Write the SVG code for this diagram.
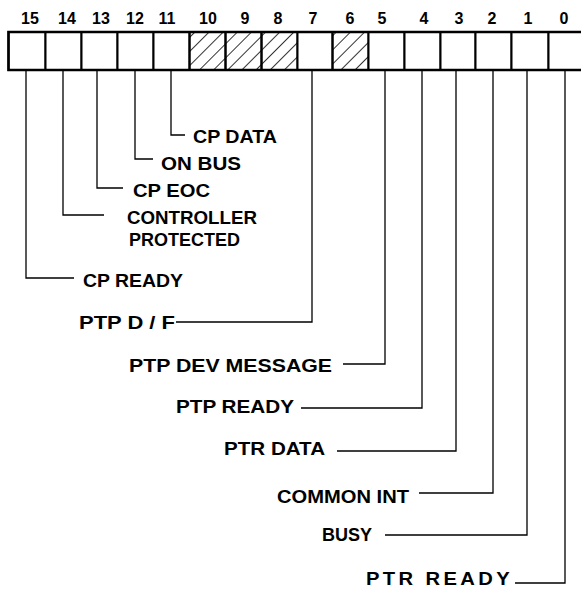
<svg xmlns="http://www.w3.org/2000/svg" width="581" height="589" viewBox="0 0 581 589">
<defs>
<pattern id="hatch" patternUnits="userSpaceOnUse" width="10" height="10" patternTransform="rotate(45)">
<line x1="0" y1="0" x2="0" y2="10" stroke="#000" stroke-width="1.6"/>
</pattern>
<style>
.lbl{font-family:"Liberation Sans",Arial,sans-serif;font-weight:bold;font-size:18px;fill:#000}
.bit{font-family:"Liberation Sans",Arial,sans-serif;font-weight:bold;font-size:16px;fill:#000;text-anchor:middle}
.cell{fill:#fff;stroke:#000;stroke-width:2}
.hcell{fill:url(#hatch);stroke:#000;stroke-width:2}
.con{fill:none;stroke:#000;stroke-width:1.3}
</style>
</defs>
<rect width="581" height="589" fill="#fff"/>
<g id="register">
<g id="bit-numbers">
<text class="bit" x="30" y="23.5">15</text>
<text class="bit" x="67" y="23.5">14</text>
<text class="bit" x="101" y="23.5">13</text>
<text class="bit" x="135" y="23.5">12</text>
<text class="bit" x="167" y="23.5">11</text>
<text class="bit" x="208" y="23.5">10</text>
<text class="bit" x="245" y="23.5">9</text>
<text class="bit" x="278" y="23.5">8</text>
<text class="bit" x="313" y="23.5">7</text>
<text class="bit" x="350" y="23.5">6</text>
<text class="bit" x="382" y="23.5">5</text>
<text class="bit" x="424" y="23.5">4</text>
<text class="bit" x="459" y="23.5">3</text>
<text class="bit" x="492" y="23.5">2</text>
<text class="bit" x="528" y="23.5">1</text>
<text class="bit" x="564" y="23.5">0</text>
</g>
<rect class="cell" x="8.5" y="32" width="37" height="38"/>
<rect class="cell" x="45.5" y="32" width="36" height="38"/>
<rect class="cell" x="81.5" y="32" width="36" height="38"/>
<rect class="cell" x="117.5" y="32" width="36" height="38"/>
<rect class="cell" x="153.5" y="32" width="36" height="38"/>
<rect class="hcell" x="189.5" y="32" width="36" height="38"/>
<rect class="hcell" x="225.5" y="32" width="36" height="38"/>
<rect class="hcell" x="261.5" y="32" width="36" height="38"/>
<rect class="cell" x="297.5" y="32" width="35" height="38"/>
<rect class="hcell" x="332.5" y="32" width="36" height="38"/>
<rect class="cell" x="368.5" y="32" width="36" height="38"/>
<rect class="cell" x="404.5" y="32" width="36" height="38"/>
<rect class="cell" x="440.5" y="32" width="35" height="38"/>
<rect class="cell" x="475.5" y="32" width="36" height="38"/>
<rect class="cell" x="511.5" y="32" width="37" height="38"/>
<rect class="cell" x="548.5" y="32" width="36" height="38"/>
<rect x="8.5" y="32" width="576" height="38" fill="none" stroke="#000" stroke-width="2.5"/>
</g>
<g id="connectors">
<polyline class="con" points="171,70 171,135 185,135"/>
<polyline class="con" points="135,70 135,159 153,159"/>
<polyline class="con" points="97,70 97,188 123,188"/>
<polyline class="con" points="63,70 63,215 104,215"/>
<polyline class="con" points="26,70 26,278 74,278"/>
<polyline class="con" points="312,70 312,322 176,322"/>
<polyline class="con" points="385,70 385,364 343,364"/>
<polyline class="con" points="422,70 422,408 301,408"/>
<polyline class="con" points="456,70 456,451 337,451"/>
<polyline class="con" points="493,70 493,493 419,493"/>
<polyline class="con" points="527,70 527,535 385,535"/>
<polyline class="con" points="565,70 565,583 515,583"/>
</g>
<g id="cp-data"><text class="lbl" x="193" y="143" textLength="84" lengthAdjust="spacingAndGlyphs">CP DATA</text></g>
<g id="on-bus"><text class="lbl" x="161" y="170" textLength="80" lengthAdjust="spacingAndGlyphs">ON BUS</text></g>
<g id="cp-eoc"><text class="lbl" x="133" y="197" textLength="77" lengthAdjust="spacingAndGlyphs">CP EOC</text></g>
<g id="controller-protected">
<text class="lbl" x="127" y="224" textLength="130" lengthAdjust="spacingAndGlyphs">CONTROLLER</text>
<text class="lbl" x="129" y="246" textLength="111" lengthAdjust="spacingAndGlyphs">PROTECTED</text>
</g>
<g id="cp-ready"><text class="lbl" x="83" y="287" textLength="100" lengthAdjust="spacingAndGlyphs">CP READY</text></g>
<g id="ptp-df"><text class="lbl" x="79" y="329" textLength="96" lengthAdjust="spacingAndGlyphs">PTP D / F</text></g>
<g id="ptp-dev-message"><text class="lbl" x="129" y="372" textLength="203" lengthAdjust="spacingAndGlyphs">PTP DEV MESSAGE</text></g>
<g id="ptp-ready"><text class="lbl" x="176" y="413" textLength="118" lengthAdjust="spacingAndGlyphs">PTP READY</text></g>
<g id="ptr-data"><text class="lbl" x="224" y="455" textLength="101" lengthAdjust="spacingAndGlyphs">PTR DATA</text></g>
<g id="common-int"><text class="lbl" x="277" y="503" textLength="132" lengthAdjust="spacingAndGlyphs">COMMON  INT</text></g>
<g id="busy"><text class="lbl" x="322" y="541" textLength="50" lengthAdjust="spacingAndGlyphs">BUSY</text></g>
<g id="ptr-ready"><text class="lbl" x="366" y="585" textLength="147" lengthAdjust="spacingAndGlyphs" letter-spacing="3">PTR READY</text></g>
</svg>
